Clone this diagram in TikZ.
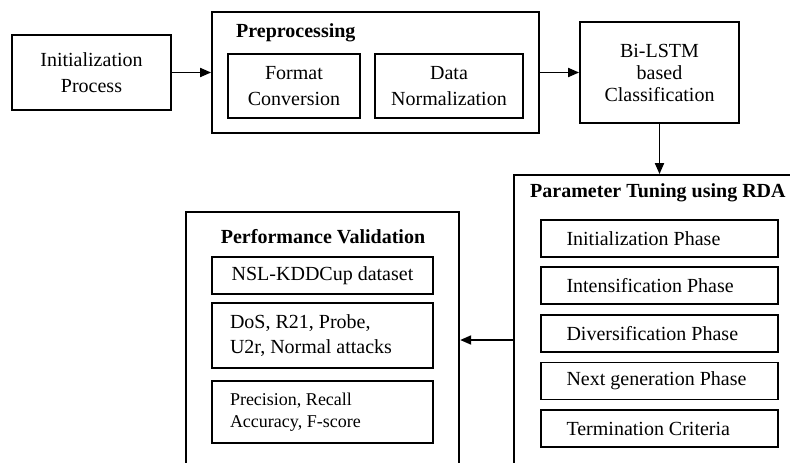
\documentclass[tikz,border=0pt]{standalone}
\usepackage{fontspec}
\setmainfont{Liberation Serif}
\usetikzlibrary{arrows.meta,positioning}

\begin{document}
\begin{tikzpicture}[x=1pt,y=-1pt,
  box/.style={draw,line width=1.8pt,inner sep=0pt,align=center,font=\fontsize{20}{26}\selectfont},
  phase/.style={box,minimum height=37pt,text width=186pt,inner xsep=25.5pt,align=flush left},
  perfbox/.style={box,text width=185pt,inner xsep=18pt,align=flush left},
  ttl/.style={inner sep=0pt,font=\fontsize{20}{24}\selectfont\bfseries},
  arr/.style={line width=1.8pt,-{Triangle[length=11pt,width=9pt]}}]
  \useasboundingbox (0,0) rectangle (790,463);
  \clip (0,0) rectangle (790,463);
  % top row
  \node[box,minimum width=159pt,minimum height=75pt] (init) at (91.5,72.5) {Initialization\\Process};
  \node[box,minimum width=327pt,minimum height=121pt] (prep) at (375.5,72.5) {};
  \node[ttl,anchor=base west] (preptitle) at (236,37) {Preprocessing};
  \node[box,minimum width=132pt,minimum height=64pt] (fmt) at (294,86) {Format\\Conversion};
  \node[box,minimum width=148pt,minimum height=64pt] (norm) at (449,86) {Data\\Normalization};
  \node[box,minimum width=159pt,minimum height=101pt,font=\fontsize{20}{22}\selectfont] (bilstm) at (659.5,72.5) {Bi-LSTM\\based\\Classification};
  % RDA tuning
  \node[box,minimum width=316pt,minimum height=330pt] (rda) at (672,340) {};
  \node[ttl,anchor=base west] (rdatitle) at (530,197) {Parameter Tuning using RDA};
  \node[phase] (initph) at (659.5,238.5) {Initialization Phase};
  \node[phase] (intph) at (659.5,285.5) {Intensification Phase};
  \node[phase] (divph) at (659.5,333.5) {Diversification Phase};
  \node[phase] (nextph) at (659.5,381) {Next generation Phase};
  \node[phase] (termph) at (659.5,428.5) {Termination Criteria};
  % validation
  \node[box,minimum width=273pt,minimum height=300pt] (perf) at (322.75,362) {};
  \node[ttl,anchor=base] (perftitle) at (323,243) {Performance Validation};
  \node[box,minimum width=221pt,minimum height=37pt] (dset) at (322.5,275.5) {NSL-KDDCup dataset};
  \node[perfbox,minimum height=65pt,font=\fontsize{20}{25}\selectfont] (atk) at (322.5,335.5) {DoS, R21, Probe,\\U2r, Normal attacks};
  \node[perfbox,minimum height=62pt,font=\fontsize{18}{22}\selectfont] (met) at (322.5,412) {Precision, Recall\\Accuracy, F-score};
  % connectors
  \draw[arr] (init) -- (prep);
  \draw[arr] (prep) -- (bilstm);
  \draw[arr] (bilstm) -- (bilstm |- rda.north);
  \draw[arr] (rda.west) -- (rda.west -| perf.east);
\end{tikzpicture}
\end{document}
